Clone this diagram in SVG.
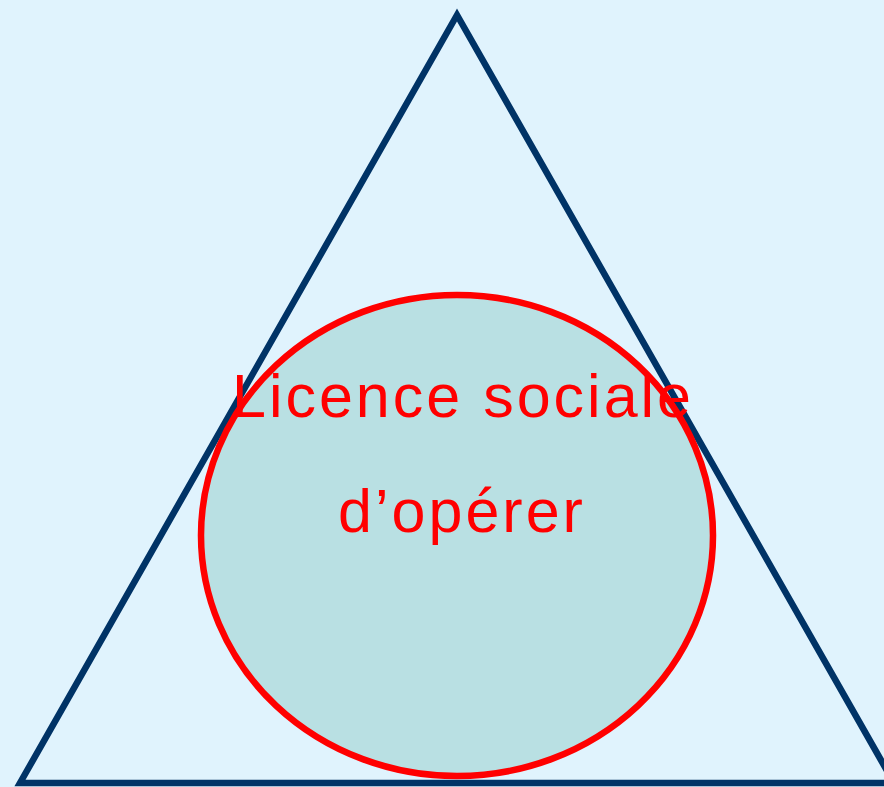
<svg xmlns="http://www.w3.org/2000/svg" width="884" height="787" viewBox="0 0 884 787">
<style>
.lbl{font-family:"Liberation Sans",Arial,sans-serif;font-size:61px;fill:#FF0000;letter-spacing:3px;text-anchor:middle}
</style>
<rect width="884" height="787" fill="#E0F3FD"/>
<g id="triangle">
<polygon points="457,15 20,783 894,783" fill="none" stroke="#003366" stroke-width="6.5" stroke-linejoin="miter"/>
</g>
<g id="circle">
<ellipse cx="457" cy="535.5" rx="256" ry="240.5" fill="#B9E0E3" stroke="#FF0000" stroke-width="6.5"/>
<text class="lbl" x="463" y="417">Licence sociale</text>
<text class="lbl" x="462" y="532">d’opérer</text>
</g>
<g id="connectors"/>
</svg>
